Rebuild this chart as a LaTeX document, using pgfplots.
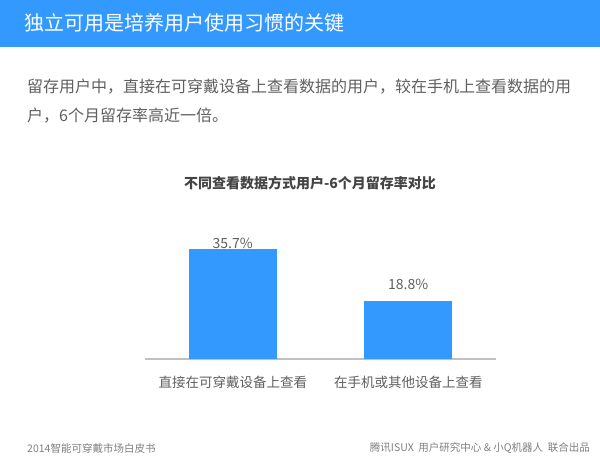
\documentclass[border=0pt]{standalone}
\usepackage{pgfplots}
\pgfplotsset{compat=1.18}
\usepackage{fontspec}
\setmainfont{Noto Sans CJK SC}
\definecolor{hdrblue}{HTML}{3399FF}
\definecolor{barblue}{HTML}{3399FF}
\definecolor{txtgray}{HTML}{606060}
\definecolor{ttlgray}{HTML}{444444}
\definecolor{ftgray}{HTML}{808080}
\definecolor{axgray}{HTML}{C0C0C0}
\begin{document}
\begin{tikzpicture}
\fill[white] (0,0) rectangle (600pt,-464pt);
\fill[hdrblue] (0,0) rectangle (600pt,-47pt);
\node[anchor=west, text=white, font=\fontsize{20}{24}\selectfont, inner sep=0pt] at (24pt,-23pt) {独立可用是培养用户使用习惯的关键};
\node[anchor=west, text=txtgray, font=\fontsize{16}{20}\selectfont, inner sep=0pt] at (27pt,-87pt) {留存用户中，直接在可穿戴设备上查看数据的用户，较在手机上查看数据的用};
\node[anchor=west, text=txtgray, font=\fontsize{16}{20}\selectfont, inner sep=0pt] at (27pt,-116pt) {户，6个月留存率高近一倍。};
\node[text=ttlgray, font=\fontsize{14}{17}\selectfont\bfseries, inner sep=0pt] at (310pt,-183pt) {不同查看数据方式用户-6个月留存率对比};
\begin{axis}[at={(145pt,-359pt)}, anchor=south west, scale only axis,
  width=351pt, height=123.25pt, xmin=-0.5, xmax=1.5, ymin=0, ymax=40,
  axis x line*=bottom, axis y line=none,
  x axis line style={draw=axgray, line width=1.5pt, -},
  xtick={0,1}, xticklabels={直接在可穿戴设备上查看, 在手机或其他设备上查看},
  major tick length=0pt,
  xticklabel style={anchor=center, yshift=-23pt, text=txtgray, font=\fontsize{13.5}{16}\selectfont},
  ytick=\empty, clip=false, ybar, bar width=88pt,
  point meta=explicit symbolic, nodes near coords,
  nodes near coords style={text=txtgray, font=\fontsize{14}{16}\selectfont, anchor=south, inner sep=0pt}]
\addplot[fill=barblue, draw=none, bar shift=0pt] coordinates {(0,35.7) [35.7\%]};
\addplot[fill=barblue, draw=none, bar shift=0pt, every node near coord/.append style={yshift=11pt}] coordinates {(1,18.8) [18.8\%]};
\end{axis}
\node[anchor=west, text=ftgray, font=\fontsize{10.5}{13}\selectfont, inner sep=0pt] at (27pt,-448pt) {2014智能可穿戴市场白皮书};
\node[anchor=east, text=ftgray, font=\fontsize{10.5}{13}\selectfont, inner sep=0pt] at (590pt,-448pt) {腾讯ISUX\ \ 用户研究中心 \& 小Q机器人\ \ 联合出品};
\pgfresetboundingbox
\path[use as bounding box] (0,0) rectangle (600pt,-464pt);
\end{tikzpicture}
\end{document}
